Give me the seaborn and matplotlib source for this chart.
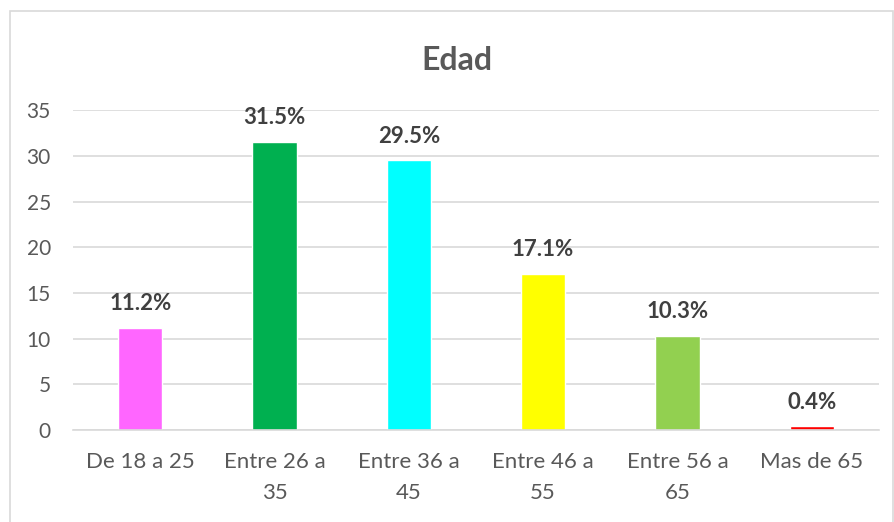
import matplotlib
matplotlib.use("Agg")
import matplotlib.pyplot as plt
import seaborn as sns
import pandas as pd
from matplotlib.patches import Rectangle

categories = ["De 18 a 25", "Entre 26 a\n35", "Entre 36 a\n45", "Entre 46 a\n55", "Entre 56 a\n65", "Mas de 65"]
values = [11.2, 31.5, 29.5, 17.1, 10.3, 0.4]
labels = ["11.2%", "31.5%", "29.5%", "17.1%", "10.3%", "0.4%"]
colors = ["#FF66FF", "#00B050", "#00FFFF", "#FFFF00", "#92D050", "#FF0000"]

sns.set_theme(style="white")
plt.rcParams['font.family'] = ['Lato', 'DejaVu Sans']

df = pd.DataFrame({"cat": categories, "val": values})
fig = plt.figure(figsize=(8.95, 5.22), dpi=100)
ax = fig.add_axes([0.0816, 0.176, 0.9004, 0.613])
sns.barplot(data=df, x="cat", y="val", hue="cat", palette=colors, legend=False,
            width=0.33, ax=ax, saturation=1)

ax.set_ylim(0, 35)
ax.set_xlim(-0.5, 5.5)
ax.set_yticks(range(0, 36, 5))
ax.yaxis.grid(True, color="#D9D9D9", linewidth=1.2)
ax.set_axisbelow(True)
for s in ["top", "right", "left"]:
    ax.spines[s].set_visible(False)
ax.spines["bottom"].set_color("#D9D9D9")
ax.spines["bottom"].set_linewidth(1.2)
ax.tick_params(axis="x", length=0, labelsize=16, labelcolor="#595959", pad=16)
ax.tick_params(axis="y", length=0, labelsize=15, labelcolor="#595959", pad=16)
for t in ax.get_xticklabels():
    t.set_linespacing(1.65)
ax.set_xlabel("")
ax.set_ylabel("")

for i, (v, lab) in enumerate(zip(values, labels)):
    ax.annotate(lab, (i, v), xytext=(0, 10), textcoords="offset points",
                ha="center", va="bottom", fontsize=16, fontweight="bold", color="#404040")

fig.text(0.51, 0.884, "Edad", ha="center", va="center", fontsize=23, fontweight="bold", color="#595959")
fig.patches.append(Rectangle((10/895, -0.1), 883/895, 1 - 11/522 + 0.1, transform=fig.transFigure,
                             fill=False, edgecolor="#D9D9D9", linewidth=1.2))

fig.savefig("out.png", dpi=100)
